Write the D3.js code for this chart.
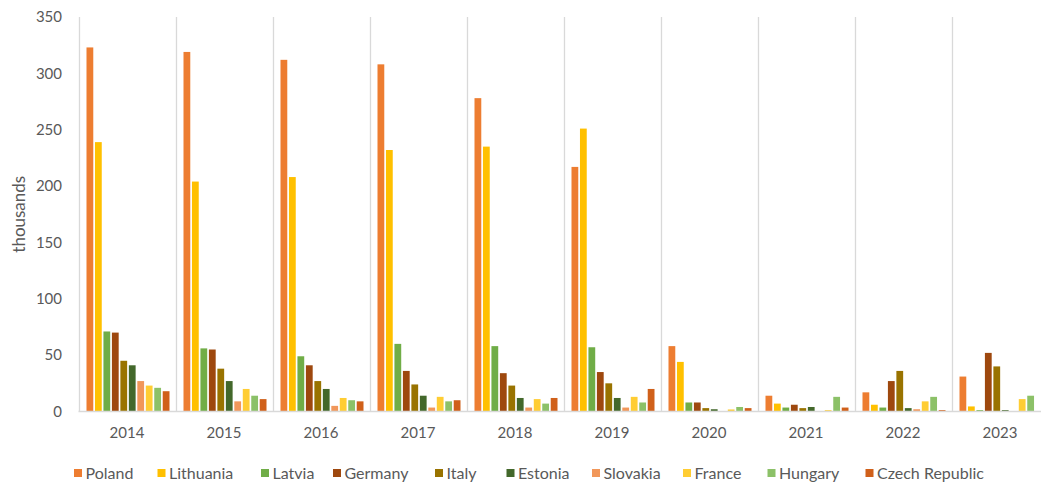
<!DOCTYPE html>
<html>
<head>
<meta charset="utf-8">
<script src="https://cdn.jsdelivr.net/npm/d3@7"></script>
<style>
  html, body { margin: 0; padding: 0; background: #fff; }
  svg { display: block; }
  text { font-family: Lato, "Open Sans", sans-serif; fill: #595959; }
</style>
</head>
<body>
<svg id="chart" width="1041" height="484"></svg>
<script>
// ---- data ----
const years = ["2014","2015","2016","2017","2018","2019","2020","2021","2022","2023"];
const countries = ["Poland","Lithuania","Latvia","Germany","Italy","Estonia","Slovakia","France","Hungary","Czech Republic"];
const Poland    = [323, 319, 312, 308, 278, 217, 58, 14, 17, 31];
const Lithuania = [239, 204, 208, 232, 235, 251, 44, 7, 6, 4.5];
const Latvia    = [71, 56, 49, 60, 58, 57, 8, 3.5, 3.5, 1.2];
const Germany   = [70, 55, 41, 36, 34, 35, 8, 6, 27, 52];
const Italy     = [45, 38, 27, 24, 23, 25, 3, 3, 36, 40];
const Estonia   = [41, 27, 20, 14, 12, 12, 2, 4, 3, 1.2];
const Slovakia  = [27, 9, 5, 3.5, 3.5, 3.5, 0.3, 0.3, 2, 0.2];
const France    = [23, 20, 12, 13, 11, 13, 1.8, 1.2, 9, 11];
const Hungary   = [21, 14, 10, 9, 7, 8, 4, 13, 13, 14];
const Czech     = [18, 11, 9, 10, 12, 20, 3, 3.5, 1.2, 0];
const yTicks = [0, 50, 100, 150, 200, 250, 300, 350];
const yTitle = "thousands";

const seriesValues = [Poland, Lithuania, Latvia, Germany, Italy, Estonia, Slovakia, France, Hungary, Czech];
const colors = ["#ED7D31","#FFC000","#70AD47","#9E480E","#997300","#43682B","#F1975A","#FFCD33","#8CC168","#D0601A"];

// ---- layout ----
const plotLeft = 78.5, groupW = 97, plotTop = 17, plotBottom = 411.5;
const svg = d3.select("#chart");

const x0 = d3.scaleBand().domain(years).range([plotLeft, plotLeft + groupW * years.length]).padding(0);
const x1 = d3.scaleBand().domain(countries).range([8, groupW - 6]).paddingInner(0.2).paddingOuter(0);
const y = d3.scaleLinear().domain([0, 350]).range([plotBottom, plotTop]);
const color = d3.scaleOrdinal().domain(countries).range(colors);

// vertical category separators
svg.append("g").selectAll("line")
  .data(years.concat(["end"]))
  .join("line")
  .attr("x1", (d, i) => Math.round(plotLeft + i * groupW) + 0.5)
  .attr("x2", (d, i) => Math.round(plotLeft + i * groupW) + 0.5)
  .attr("y1", plotTop)
  .attr("y2", plotBottom)
  .attr("stroke", "#D9D9D9")
  .attr("stroke-width", 1.3);

// bars
const groups = svg.append("g").selectAll("g")
  .data(years)
  .join("g")
  .attr("transform", d => `translate(${x0(d)},0)`);

groups.selectAll("rect")
  .data((yr, yi) => countries.map((c, ci) => ({ c, v: seriesValues[ci][yi] })))
  .join("rect")
  .attr("x", d => x1(d.c))
  .attr("width", x1.bandwidth())
  .attr("y", d => y(d.v))
  .attr("height", d => y(0) - y(d.v))
  .attr("fill", d => color(d.c));

// x axis line
svg.append("line")
  .attr("x1", plotLeft).attr("x2", 1041)
  .attr("y1", plotBottom).attr("y2", plotBottom)
  .attr("stroke", "#D9D9D9").attr("stroke-width", 1.3);

// x axis labels
const xAxis = d3.axisBottom(x0).tickSize(0).tickPadding(0);
const gx = svg.append("g").attr("transform", `translate(0,${plotBottom + 16})`).call(xAxis);
gx.select(".domain").remove();
gx.selectAll("text").style("font-size", "15px").attr("dy", "0.71em").attr("fill", "#595959");

// y axis labels
const yAxis = d3.axisLeft(y).tickValues(yTicks).tickSize(0).tickPadding(0);
const gy = svg.append("g").attr("transform", `translate(62,0)`).call(yAxis);
gy.select(".domain").remove();
gy.selectAll("text").style("font-size", "15px").attr("fill", "#595959");

// y title
svg.append("text")
  .attr("transform", `translate(25,${(plotTop + plotBottom) / 2}) rotate(-90)`)
  .attr("text-anchor", "middle")
  .style("font-size", "17px")
  .text(yTitle);

// legend
const legendX = [74, 157.5, 261, 333, 435, 506.5, 592, 683, 767.5, 865.5];
const lg = svg.append("g").selectAll("g")
  .data(countries)
  .join("g")
  .attr("transform", (d, i) => `translate(${legendX[i]},469)`);
lg.append("rect").attr("width", 8).attr("height", 8).attr("fill", d => color(d));
lg.append("text").attr("x", 11.5).attr("y", 10).style("font-size", "16px").text(d => d);
</script>
</body>
</html>
